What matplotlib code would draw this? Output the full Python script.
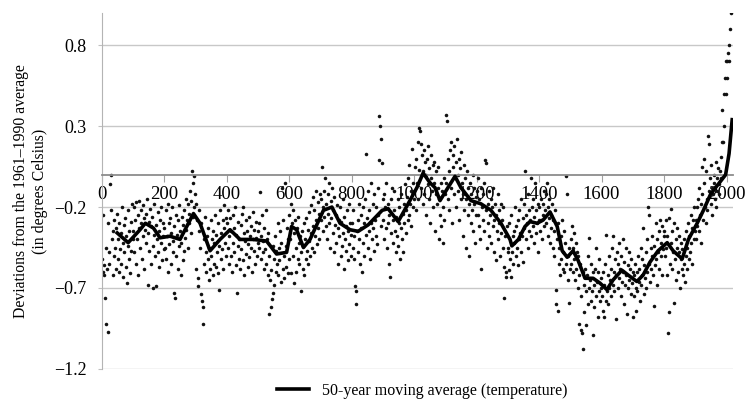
import numpy as np
import matplotlib
matplotlib.use('Agg')
import matplotlib.pyplot as plt

plt.rcParams['font.family'] = ['Liberation Serif', 'DejaVu Serif']

# deviations from the 1961-1990 average (deg C), one value every second year
dev_000 = [-0.52, -0.60, -0.25, -0.56, -0.62, -0.76, -0.45, -0.92, -0.58, -0.97,
           -0.30, -0.48, -0.55, -0.06, -0.22, 0.00, -0.40, -0.62, -0.35, -0.50,
           -0.28, -0.45, -0.58, -0.33, -0.24, -0.52, -0.40, -0.60, -0.30, -0.46,
           -0.36, -0.55, -0.20, -0.42, -0.63, -0.31, -0.48, -0.27, -0.57, -0.38,
           -0.67, -0.44, -0.22, -0.52, -0.35, -0.61, -0.29, -0.47, -0.18, -0.40]
dev_100 = [-0.35, -0.20, -0.48, -0.28, -0.55, -0.17, -0.40, -0.62, -0.25, -0.33,
           -0.16, -0.45, -0.30, -0.22, -0.52, -0.38, -0.19, -0.27, -0.58, -0.34,
           -0.24, -0.42, -0.15, -0.36, -0.68, -0.29, -0.47, -0.21, -0.55, -0.32,
           -0.26, -0.44, -0.70, -0.37, -0.18, -0.50, -0.31, -0.69, -0.40, -0.23,
           -0.48, -0.35, -0.57, -0.28, -0.42, -0.20, -0.53, -0.38, -0.30, -0.46]
dev_200 = [-0.33, -0.45, -0.22, -0.52, -0.38, -0.18, -0.60, -0.30, -0.43, -0.27,
           -0.55, -0.36, -0.20, -0.48, -0.41, -0.73, -0.32, -0.76, -0.25, -0.50,
           -0.37, -0.58, -0.28, -0.44, -0.19, -0.35, -0.62, -0.42, -0.26, -0.53,
           -0.31, -0.47, -0.22, -0.39, -0.15, -0.34, -0.28, -0.45, -0.18, -0.30,
           -0.24, -0.10, -0.36, -0.16, 0.02, -0.05, -0.26, -0.01, -0.20, -0.12]
dev_300 = [-0.18, -0.58, -0.28, -0.64, -0.69, -0.35, -0.22, -0.45, -0.30, -0.74,
           -0.78, -0.82, -0.92, -0.40, -0.55, -0.26, -0.48, -0.60, -0.38, -0.52,
           -0.33, -0.65, -0.45, -0.58, -0.28, -0.50, -0.40, -0.62, -0.35, -0.55,
           -0.42, -0.25, -0.57, -0.37, -0.48, -0.61, -0.30, -0.71, -0.44, -0.22,
           -0.52, -0.36, -0.46, -0.28, -0.58, -0.33, -0.19, -0.42, -0.50, -0.27]
dev_400 = [-0.30, -0.45, -0.22, -0.55, -0.38, -0.27, -0.50, -0.35, -0.60, -0.25,
           -0.42, -0.33, -0.48, -0.20, -0.56, -0.37, -0.73, -0.44, -0.29, -0.52,
           -0.40, -0.58, -0.31, -0.46, -0.24, -0.20, -0.53, -0.36, -0.62, -0.41,
           -0.28, -0.49, -0.35, -0.57, -0.43, -0.26, -0.51, -0.38, -0.45, -0.32,
           -0.60, -0.40, -0.23, -0.47, -0.34, -0.55, -0.39, -0.29, -0.50, -0.42]
dev_500 = [-0.35, -0.45, -0.30, -0.11, -0.52, -0.38, -0.25, -0.48, -0.41, -0.58,
           -0.33, -0.46, -0.22, -0.55, -0.40, -0.62, -0.36, -0.50, -0.86, -0.65,
           -0.82, -0.59, -0.77, -0.44, -0.73, -0.68, -0.52, -0.38, -0.60, -0.47,
           -0.55, -0.30, -0.62, -0.45, -0.53, -0.35, -0.66, -0.42, -0.08, -0.58,
           -0.28, -0.50, -0.64, -0.05, -0.44, -0.57, -0.33, -0.61, -0.40, -0.52]
dev_600 = [-0.25, -0.40, -0.18, -0.61, -0.30, -0.50, -0.22, -0.67, -0.36, -0.28,
           -0.45, -0.60, -0.33, -0.52, -0.26, -0.42, -0.55, -0.38, -0.72, -0.48,
           -0.35, -0.58, -0.44, -0.30, -0.62, -0.40, -0.52, -0.27, -0.47, -0.34,
           -0.55, -0.23, -0.41, -0.50, -0.19, -0.36, -0.45, -0.14, -0.32, -0.48,
           -0.22, -0.38, -0.10, -0.28, -0.43, -0.17, -0.33, -0.24, -0.40, -0.12]
dev_700 = [-0.15, -0.28, 0.05, -0.20, -0.35, -0.10, -0.26, -0.02, -0.32, -0.18,
           -0.40, -0.12, -0.24, -0.05, -0.30, -0.45, -0.16, -0.27, -0.08, -0.36,
           -0.22, -0.48, -0.14, -0.31, -0.25, -0.42, -0.19, -0.55, -0.33, -0.28,
           -0.38, -0.20, -0.50, -0.29, -0.44, -0.15, -0.36, -0.58, -0.26, -0.40,
           -0.32, -0.47, -0.22, -0.53, -0.35, -0.18, -0.43, -0.30, -0.50, -0.37]
dev_800 = [-0.30, -0.45, -0.22, -0.52, -0.38, -0.69, -0.80, -0.72, -0.35, -0.28,
           -0.48, -0.18, -0.40, -0.55, -0.25, -0.33, -0.60, -0.20, -0.42, -0.30,
           -0.50, -0.15, -0.37, 0.13, -0.27, -0.45, -0.10, -0.35, -0.22, -0.52,
           -0.30, -0.05, -0.40, -0.18, -0.33, -0.47, -0.12, -0.28, -0.38, -0.20,
           -0.43, -0.08, -0.25, 0.09, 0.36, 0.30, 0.22, -0.32, 0.07, -0.15]
dev_900 = [-0.28, -0.12, -0.40, -0.20, -0.33, -0.05, -0.45, -0.18, -0.30, -0.55,
           -0.25, -0.63, -0.15, -0.36, -0.08, -0.28, -0.42, -0.22, -0.10, -0.35,
           -0.48, -0.26, -0.38, -0.15, -0.44, -0.30, -0.20, -0.52, -0.33, -0.12,
           -0.40, -0.24, -0.48, -0.18, -0.30, -0.06, -0.36, -0.22, -0.14, -0.28,
           -0.02, -0.25, 0.06, -0.18, -0.32, -0.10, 0.16, -0.20, -0.05, -0.15]
dev_1000 = [-0.10, 0.05, -0.22, 0.10, -0.05, -0.15, 0.20, 0.03, 0.29, 0.27,
            0.19, -0.08, 0.12, -0.18, 0.02, 0.15, -0.12, 0.08, -0.25, 0.00,
            0.10, -0.06, 0.18, -0.15, 0.04, -0.30, -0.02, 0.12, -0.10, 0.06,
            -0.20, -0.05, 0.08, -0.35, -0.12, 0.02, -0.18, -0.08, 0.05, -0.40,
            -0.15, -0.25, -0.05, -0.32, -0.10, -0.42, -0.20, -0.02, -0.28, -0.12]
dev_1100 = [-0.05, 0.37, 0.33, -0.15, 0.10, -0.22, 0.02, 0.15, -0.08, 0.20,
            -0.30, 0.05, 0.12, -0.12, 0.18, -0.02, 0.08, -0.20, 0.22, 0.00,
            -0.10, 0.10, -0.28, 0.04, -0.15, 0.14, -0.05, -0.38, -0.12, 0.06,
            -0.22, -0.02, -0.45, -0.15, 0.02, -0.25, -0.08, -0.50, -0.18, -0.05,
            -0.30, -0.12, -0.22, 0.00, -0.35, -0.18, -0.08, -0.42, -0.25, -0.14]
dev_1200 = [-0.10, -0.25, -0.02, -0.32, -0.15, -0.40, -0.08, -0.58, -0.20, -0.28,
            -0.12, -0.35, -0.05, 0.09, 0.07, -0.22, -0.45, -0.18, -0.30, -0.10,
            -0.38, -0.25, -0.15, -0.42, -0.20, -0.32, -0.08, -0.28, -0.48, -0.18,
            -0.53, -0.25, -0.35, -0.12, -0.40, -0.22, -0.30, -0.50, -0.18, -0.36,
            -0.28, -0.45, -0.20, -0.76, -0.57, -0.38, -0.63, -0.60, -0.32, -0.48]
dev_1300 = [-0.45, -0.30, -0.59, -0.52, -0.63, -0.25, -0.48, -0.38, -0.55, -0.35,
            -0.42, -0.20, -0.50, -0.32, -0.45, -0.28, -0.56, -0.40, -0.22, -0.36,
            -0.48, -0.15, -0.38, -0.27, -0.54, -0.33, -0.18, 0.02, -0.40, -0.25,
            -0.30, -0.12, -0.45, -0.22, -0.35, -0.28, -0.02, -0.38, -0.20, -0.32,
            -0.15, -0.42, -0.26, -0.05, -0.36, -0.22, -0.30, -0.48, -0.18, -0.28]
dev_1400 = [-0.20, -0.35, -0.15, -0.28, -0.40, -0.18, -0.25, -0.10, -0.32, -0.22,
            -0.12, -0.30, -0.05, -0.38, -0.20, -0.27, -0.15, -0.42, -0.25, -0.33,
            -0.18, -0.45, -0.28, -0.50, -0.35, -0.22, -0.71, -0.80, -0.40, -0.84,
            -0.30, -0.55, -0.45, -0.62, -0.38, -0.52, -0.28, -0.58, -0.48, -0.35,
            -0.60, -0.42, -0.01, -0.55, -0.12, -0.50, -0.65, -0.79, -0.45, -0.58]
dev_1500 = [-0.40, -0.55, -0.32, -0.60, -0.45, -0.52, -0.36, -0.65, -0.42, -0.58,
            -0.48, -0.70, -0.50, -0.62, -0.92, -0.55, -0.96, -0.75, -0.98, -0.60,
            -1.08, -0.68, -0.85, -0.58, -0.72, -0.93, -0.62, -0.80, -0.50, -0.70,
            -0.39, -0.65, -0.78, -0.55, -0.72, -0.60, -0.99, -0.68, -0.82, -0.58,
            -0.75, -0.45, -0.66, -0.88, -0.60, -0.72, -0.52, -0.78, -0.64, -0.70]
dev_1600 = [-0.75, -0.60, -0.84, -0.88, -0.68, -0.55, -0.78, -0.37, -0.72, -0.62,
            -0.80, -0.50, -0.70, -0.65, -0.58, -0.75, -0.45, -0.68, -0.38, -0.60,
            -0.72, -0.52, -0.89, -0.62, -0.48, -0.70, -0.55, -0.64, -0.42, -0.58,
            -0.75, -0.50, -0.66, -0.40, -0.60, -0.80, -0.54, -0.68, -0.45, -0.62,
            -0.86, -0.56, -0.70, -0.48, -0.65, -0.58, -0.74, -0.52, -0.67, -0.60]
dev_1700 = [-0.88, -0.62, -0.75, -0.55, -0.70, -0.84, -0.60, -0.72, -0.50, -0.66,
            -0.58, -0.78, -0.45, -0.68, -0.62, -0.52, -0.33, -0.74, -0.56, -0.64,
            -0.48, -0.70, -0.40, -0.60, -0.20, -0.55, -0.25, -0.66, -0.45, -0.58,
            -0.50, -0.38, -0.62, -0.81, -0.44, -0.56, -0.30, -0.52, -0.68, -0.40,
            -0.48, -0.35, -0.58, -0.28, -0.50, -0.42, -0.62, -0.32, -0.46, -0.38]
dev_1800 = [-0.35, -0.50, -0.28, -0.45, -0.62, -0.38, -0.98, -0.85, -0.27, -0.55,
            -0.42, -0.21, -0.58, -0.35, -0.48, -0.30, -0.79, -0.52, -0.40, -0.65,
            -0.45, -0.33, -0.60, -0.48, -0.38, -0.70, -0.52, -0.42, -0.58, -0.46,
            -0.62, -0.55, -0.40, -0.66, -0.50, -0.35, -0.58, -0.45, -0.30, -0.52,
            -0.38, -0.48, -0.25, -0.42, -0.33, -0.55, -0.28, -0.40, -0.20, -0.35]
dev_1900 = [-0.28, -0.40, -0.20, -0.32, -0.15, -0.35, -0.08, -0.25, -0.42, -0.18,
            0.05, -0.12, -0.28, 0.10, -0.05, -0.20, -0.30, 0.02, -0.15, -0.22,
            0.24, 0.19, -0.10, -0.02, -0.18, 0.06, -0.25, -0.08, -0.12, 0.00,
            -0.05, -0.15, 0.08, -0.20, -0.02, -0.10, 0.04, -0.12, -0.06, 0.02]
dev_1980 = [-0.02, 0.11, 0.20, 0.40, 0.20, 0.50, 0.30, 0.60, 0.50, 0.70,
            0.60, 0.70, 0.75, 0.70, 0.80, 0.90, 1.00]

# 50-year moving average as drawn
ma_years = [50, 85, 123, 140, 166, 187, 219, 251, 294, 315,
            347, 379, 411, 443, 485, 528, 560, 592, 608, 624,
            646, 667, 710, 737, 763, 795, 821, 853, 898, 917,
            949, 981, 1009, 1029, 1051, 1067, 1083, 1102, 1131, 1150,
            1182, 1214, 1246, 1278, 1307, 1313, 1334, 1355, 1371, 1394,
            1413, 1435, 1458, 1474, 1490, 1509, 1525, 1547, 1573, 1595,
            1617, 1637, 1665, 1685, 1713, 1733, 1755, 1781, 1810, 1829,
            1858, 1878, 1906, 1926, 1949, 1981, 1997, 2008, 2018]
ma_values = [-0.36, -0.42, -0.34, -0.30, -0.33, -0.39, -0.38, -0.40, -0.24, -0.30,
             -0.47, -0.40, -0.34, -0.40, -0.40, -0.41, -0.49, -0.48, -0.32, -0.34,
             -0.45, -0.40, -0.22, -0.20, -0.30, -0.34, -0.35, -0.31, -0.22, -0.21,
             -0.29, -0.18, -0.08, 0.01, -0.05, -0.08, -0.16, -0.10, -0.01, -0.08,
             -0.16, -0.18, -0.22, -0.30, -0.40, -0.44, -0.40, -0.32, -0.29, -0.30,
             -0.28, -0.23, -0.32, -0.47, -0.51, -0.47, -0.53, -0.64, -0.64, -0.67,
             -0.71, -0.65, -0.59, -0.62, -0.66, -0.62, -0.54, -0.47, -0.42, -0.47,
             -0.52, -0.40, -0.30, -0.22, -0.12, -0.04, 0.00, 0.13, 0.34]

x_ticks = [0, 200, 400, 600, 800, 1000, 1200, 1400, 1600, 1800, 2000]
y_ticks = [-1.2, -0.7, -0.2, 0.3, 0.8]

deviations = np.concatenate([dev_000, dev_100, dev_200, dev_300, dev_400,
                             dev_500, dev_600, dev_700, dev_800, dev_900,
                             dev_1000, dev_1100, dev_1200, dev_1300, dev_1400,
                             dev_1500, dev_1600, dev_1700, dev_1800, dev_1900,
                             dev_1980])
years = np.arange(1, 2 * len(deviations), 2)

fig, ax = plt.subplots(figsize=(7.47, 4.01), dpi=100)
fig.subplots_adjust(left=0.136, right=0.981, bottom=0.080, top=0.968)

ax.scatter(years, deviations, s=6.5, color='#111111', linewidths=0, zorder=2)
line, = ax.plot(ma_years, ma_values, color='black', linewidth=2.6, zorder=3,
                label='50-year moving average (temperature)')

ax.set_xlim(0, 2020)
ax.set_ylim(-1.2, 1.0)
ax.set_xticks(x_ticks)
ax.set_xticklabels([str(t) for t in x_ticks])
ax.set_yticks(y_ticks)
ax.set_yticklabels([f'{v:.1f}'.replace('-', '\u2212') for v in y_ticks])

ax.set_axisbelow(True)
ax.yaxis.grid(True, color='#c8c8c8', linewidth=1.0)

ax.spines['top'].set_visible(False)
ax.spines['right'].set_visible(False)
ax.spines['left'].set_color('#b4b4b4')
ax.spines['bottom'].set_position(('data', 0))
ax.spines['bottom'].set_color('#8c8c8c')
ax.spines['bottom'].set_linewidth(1.3)

ax.tick_params(axis='x', length=5, color='#a0a0a0', pad=3, labelsize=13.5)
ax.tick_params(axis='y', length=3, color='#c0c0c0', pad=8, labelsize=13)

fig.text(0.041, 0.524, 'Deviations from the 1961\u20131990 average\n(in degrees Celsius)',
         rotation=90, ha='center', va='center', fontsize=11.3, linespacing=1.25)

fig.legend(handles=[line], loc='center', bbox_to_anchor=(0.565, 0.025),
           frameon=False, handlelength=2.0, fontsize=11.5)

plt.savefig('out.png', dpi=100)
